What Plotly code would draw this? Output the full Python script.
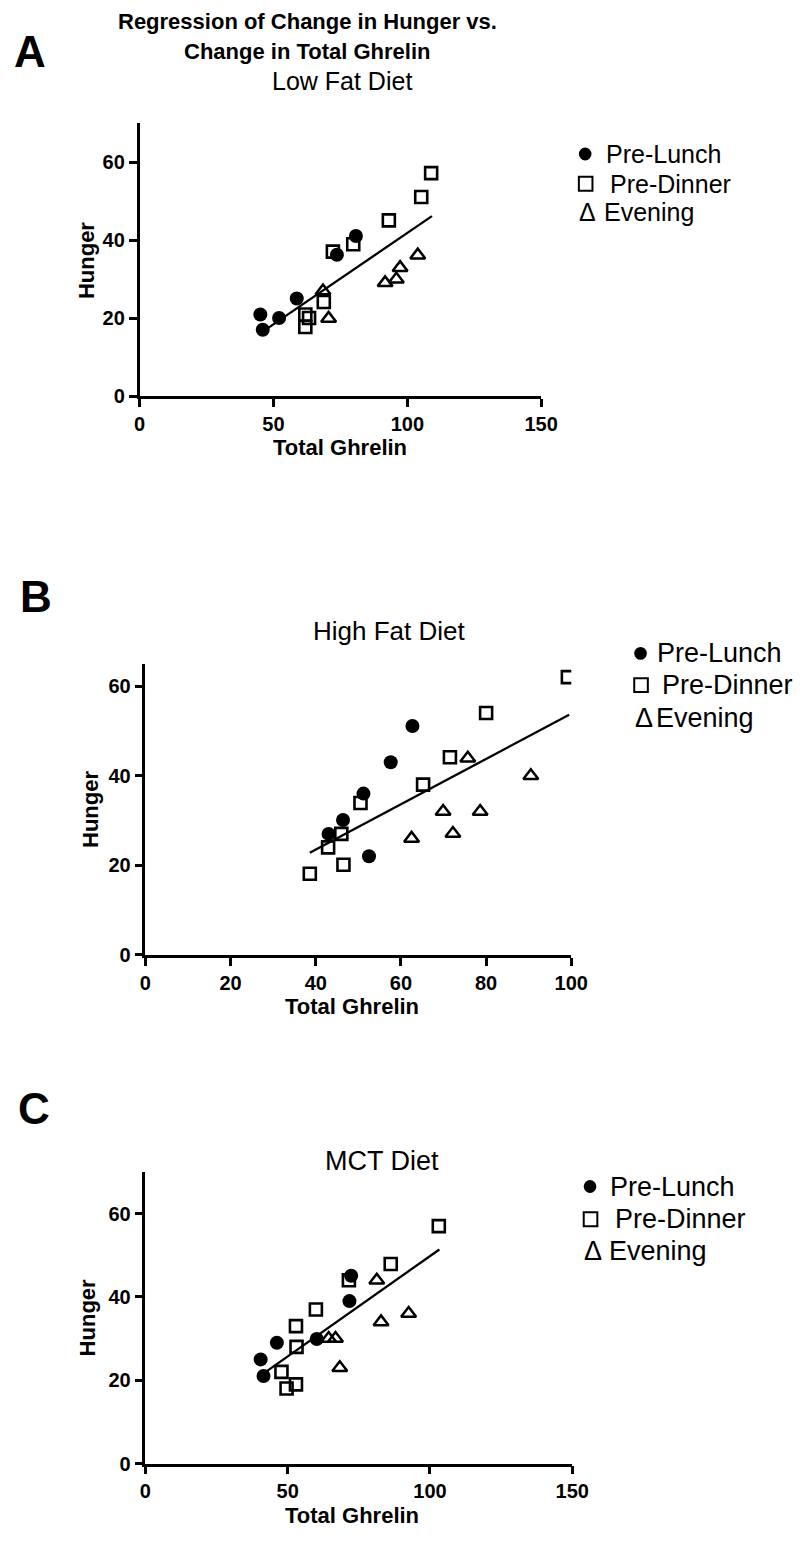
import plotly.graph_objects as go

W, H = 812, 1545
OFF = 8  # page body margin in the browser
FONT = "Liberation Sans, Arial, Helvetica, sans-serif"

# ---------------- data ----------------
# Panel A: Low Fat Diet
a_lunch_x = [45.1, 46.0, 52.1, 58.7, 73.7, 80.8]
a_lunch_y = [21.0, 17.1, 20.1, 25.1, 36.3, 41.1]
a_dinner_x = [61.9, 61.9, 63.3, 68.8, 72.2, 79.8, 93.1, 105.2, 108.9]
a_dinner_y = [17.8, 21.0, 20.1, 24.2, 37.1, 39.0, 45.1, 51.1, 57.2]
a_even_x = [68.5, 70.6, 91.7, 95.9, 97.3, 103.9]
a_even_y = [27.0, 20.0, 29.1, 30.0, 33.0, 36.2]
a_fit_x = [47.9, 109.2]
a_fit_y = [17.5, 46.2]

# Panel B: High Fat Diet
b_lunch_x = [43.0, 46.4, 51.2, 52.5, 57.6, 62.7]
b_lunch_y = [27.0, 30.1, 36.0, 22.0, 43.0, 51.1]
b_dinner_x = [38.6, 42.9, 46.0, 46.5, 50.5, 65.2, 71.5, 80.0, 99.2]
b_dinner_y = [18.1, 24.0, 27.0, 20.1, 33.9, 38.0, 44.1, 54.0, 62.0]
b_even_x = [62.5, 69.9, 72.2, 75.7, 78.6, 90.5]
b_even_y = [26.0, 32.0, 27.1, 43.9, 32.0, 40.0]
b_fit_x = [38.6, 99.5]
b_fit_y = [22.8, 53.6]

# Panel C: MCT Diet
c_lunch_x = [40.5, 41.5, 46.2, 60.2, 71.7, 72.3]
c_lunch_y = [25.0, 21.0, 29.0, 29.9, 39.0, 45.1]
c_dinner_x = [47.8, 49.6, 52.9, 53.1, 52.9, 59.9, 71.5, 86.2, 103.1]
c_dinner_y = [22.0, 18.0, 19.0, 28.0, 33.0, 37.0, 44.0, 47.9, 57.0]
c_even_x = [64.4, 66.8, 68.3, 81.3, 82.8, 92.5]
c_even_y = [30.0, 30.0, 23.0, 44.0, 34.0, 36.0]
c_fit_x = [42.3, 103.3]
c_fit_y = [22.0, 51.4]

panel_letters = ["A", "B", "C"]
diet_titles = ["Low Fat Diet", "High Fat Diet", "MCT Diet"]
main_title = ["Regression of Change in Hunger vs.", "Change in Total Ghrelin"]
legend_labels = ["Pre-Lunch", "Pre-Dinner", "Evening"]
x_title = "Total Ghrelin"
y_title = "Hunger"

x_ranges = [[0, 150], [0, 100], [0, 150]]
y_ranges = [[0, 70], [0, 65], [0, 70]]
x_ticks = [[0, 50, 100, 150], [0, 20, 40, 60, 80, 100], [0, 50, 100, 150]]
y_ticks = [[0, 20, 40, 60], [0, 20, 40, 60], [0, 20, 40, 60]]

# ---------------- layout helpers (page pixel -> paper) ----------------
FW, FH = W - OFF, H - OFF

def px(x):
    return (x - OFF) / FW

def py(y):
    return 1 - (y - OFF) / FH

# plot boxes in page pixels: (left, right, top, bottom)
boxes = [
    (137.3, 550.7, 124.0, 399.3),
    (143.3, 581.7, 668.4, 961.7),
    (143.3, 582.7, 1180.4, 1474.0),
]

panels = [
    (a_lunch_x, a_lunch_y, a_dinner_x, a_dinner_y, a_even_x, a_even_y, a_fit_x, a_fit_y),
    (b_lunch_x, b_lunch_y, b_dinner_x, b_dinner_y, b_even_x, b_even_y, b_fit_x, b_fit_y),
    (c_lunch_x, c_lunch_y, c_dinner_x, c_dinner_y, c_even_x, c_even_y, c_fit_x, c_fit_y),
]

fig = go.Figure()
layout_axes = {}
for i, (lx, ly, dx, dy, ex, ey, fx, fy) in enumerate(panels):
    n = "" if i == 0 else str(i + 1)
    xa, ya = "x" + n, "y" + n
    fig.add_trace(go.Scatter(x=fx, y=fy, mode="lines", xaxis=xa, yaxis=ya,
                             line=dict(color="black", width=2.3), showlegend=False, hoverinfo="skip"))
    fig.add_trace(go.Scatter(x=ex, y=ey, mode="markers", xaxis=xa, yaxis=ya, showlegend=False,
                             marker=dict(symbol="triangle-up-open", size=13, color="black",
                                         line=dict(width=2.5, color="black"))))
    fig.add_trace(go.Scatter(x=dx, y=dy, mode="markers", xaxis=xa, yaxis=ya, showlegend=False,
                             marker=dict(symbol="square-open", size=12, color="black",
                                         line=dict(width=2.6, color="black"))))
    fig.add_trace(go.Scatter(x=lx, y=ly, mode="markers", xaxis=xa, yaxis=ya, showlegend=False,
                             marker=dict(symbol="circle", size=14, color="black",
                                         line=dict(width=0))))
    l, r, t, b = boxes[i]
    common = dict(showline=True, linecolor="black", linewidth=2.5, ticks="outside",
                  ticklen=8, tickwidth=2.5, tickcolor="black", showgrid=False, zeroline=False,
                  tickfont=dict(family=FONT, size=20, color="black", weight="bold"))
    layout_axes["xaxis" + n] = dict(domain=[px(l), px(r)], range=x_ranges[i], tickvals=x_ticks[i],
                                    anchor=ya, **common)
    layout_axes["yaxis" + n] = dict(domain=[py(b), py(t)], range=y_ranges[i], tickvals=y_ticks[i],
                                    anchor=xa, **common)

fig.update_layout(**layout_axes)

ann = []
shapes = []

def text(x, y, s, size, bold=False, xanchor="center", angle=0):
    ann.append(dict(x=px(x), y=py(y), xref="paper", yref="paper", text=s, showarrow=False,
                    xanchor=xanchor, yanchor="middle", textangle=angle,
                    font=dict(family=FONT, size=size, color="black",
                              weight="bold" if bold else "normal")))

# main title
text(310, 22, main_title[0], 22, bold=True)
text(310, 52, main_title[1], 22, bold=True)

# panel letters
letter_pos = [(24, 52), (31, 601), (29, 1116)]
for s, (x, y) in zip(panel_letters, letter_pos):
    text(x, y, s, 44, bold=True)

# diet titles
diet_pos = [(345.5, 82, 25), (394, 635, 26), (387, 1169, 27)]
for s, (x, y, fs) in zip(diet_titles, diet_pos):
    text(x, y, s, fs)

# axis titles
xt_pos = [(343.5, 451), (356, 1014), (356, 1526)]
yt_pos = [(82, 262), (86, 815), (84, 1327)]
for (x, y) in xt_pos:
    text(x, y, x_title, 22, bold=True)
for (x, y) in yt_pos:
    text(x, y, y_title, 22, bold=True, angle=-90)

# text legends: (symbol left x, text x for 3 lines, line centres, font size)
leg_specs = [
    (589, [615, 619, 613], [155, 185, 213], 25),
    (646, [668, 673, 667], [658, 690, 723], 27),
    (594, [620, 625, 618], [1195, 1228, 1260], 27),
]
for (sx, txs, ys, fs) in leg_specs:
    # filled circle
    shapes.append(dict(type="circle", xref="paper", yref="paper",
                       x0=px(sx + 0.5), x1=px(sx + 13.5), y0=py(ys[0] + 6.5), y1=py(ys[0] - 6.5),
                       fillcolor="black", line=dict(width=0)))
    # open square
    shapes.append(dict(type="rect", xref="paper", yref="paper",
                       x0=px(sx + 0.5), x1=px(sx + 14.5), y0=py(ys[1] + 7), y1=py(ys[1] - 7),
                       fillcolor="rgba(0,0,0,0)", line=dict(width=2, color="black")))
    # delta glyph
    text(sx - 1, ys[2], "\u0394", fs, xanchor="left")
    for s, tx, y in zip(legend_labels, txs, ys):
        text(tx, y, s, fs, xanchor="left")

fig.update_layout(annotations=ann, shapes=shapes, width=FW, height=FH,
                  margin=dict(l=0, r=0, t=0, b=0),
                  paper_bgcolor="white", plot_bgcolor="white", showlegend=False)

fig.write_html("out.html")
